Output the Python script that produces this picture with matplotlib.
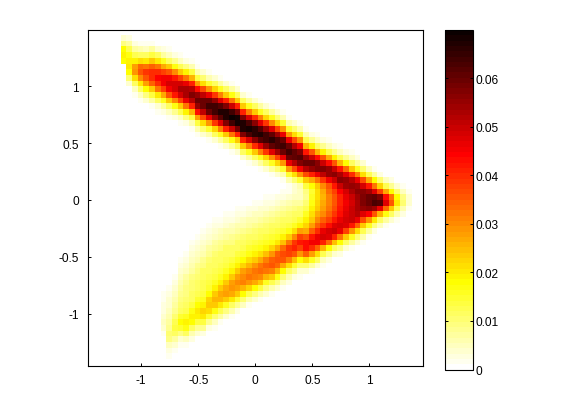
import numpy as np
import matplotlib
matplotlib.use('Agg')
import matplotlib.pyplot as plt
from matplotlib.colors import ListedColormap

plt.rcParams['font.family'] = ['Liberation Sans', 'DejaVu Sans']
plt.rcParams['font.size'] = 8.6

# density, one entry per grid column, units of 0.001
# upper arm: first row of the column, then the values going down
upper_first = [0, 0, 1, 1, 1, 1, 2, 1, 2, 2, 3, 3, 4, 5, 5, 6, 6, 7, 7, 8, 8, 9, 10, 10, 11, 11,
               12, 12, 13, 14, 14, 15, 16, 16, 17, 17, 18, 19, 19, 20, 20, 21, 21, 23, 23, 24,
               25, 25, 26, 26, 27, 28]
upper_vals = [
    [4, 9, 18, 19, 18],
    [3, 7, 13, 17, 19, 20, 18, 10, 4, 1],
    [3, 7, 13, 19, 28, 29, 21, 12, 5, 2],
    [2, 6, 12, 21, 33, 36, 30, 20, 11, 5, 2],
    [2, 5, 11, 20, 32, 39, 36, 28, 18, 9, 4, 1],
    [2, 7, 14, 24, 34, 40, 40, 34, 24, 14, 7, 2, 1],
    [4, 11, 20, 32, 40, 44, 40, 32, 20, 11, 4, 2],
    [1, 3, 7, 16, 27, 38, 45, 45, 38, 27, 16, 7, 3, 1],
    [2, 5, 12, 23, 35, 45, 49, 45, 35, 23, 12, 5, 2],
    [1, 3, 8, 17, 30, 42, 49, 49, 42, 30, 17, 8, 3, 1],
    [2, 5, 13, 24, 38, 49, 53, 49, 38, 24, 13, 5, 2],
    [1, 3, 9, 19, 32, 46, 53, 53, 46, 32, 19, 9, 3, 1],
    [2, 6, 14, 26, 41, 52, 57, 52, 41, 26, 14, 6, 2],
    [2, 6, 14, 28, 43, 55, 60, 55, 43, 28, 14, 6, 2],
    [1, 4, 10, 21, 37, 51, 60, 60, 51, 37, 21, 10, 4, 1],
    [2, 6, 15, 29, 46, 59, 64, 59, 46, 29, 15, 6, 2],
    [1, 4, 11, 22, 39, 55, 64, 64, 55, 39, 22, 11, 4, 1],
    [2, 7, 16, 31, 48, 62, 67, 62, 48, 31, 16, 7, 2],
    [1, 4, 11, 23, 41, 57, 67, 67, 57, 41, 23, 11, 4, 1],
    [2, 7, 17, 32, 50, 64, 70, 64, 50, 32, 17, 7, 2],
    [1, 4, 11, 24, 41, 58, 68, 68, 58, 41, 24, 11, 4, 1],
    [1, 4, 11, 23, 41, 57, 67, 67, 57, 41, 23, 11, 4, 1],
    [2, 7, 16, 31, 49, 63, 68, 63, 49, 31, 16, 7, 2],
    [1, 4, 11, 23, 40, 56, 66, 66, 56, 40, 23, 11, 4, 1],
    [2, 7, 16, 31, 48, 62, 67, 62, 48, 31, 16, 7, 2],
    [1, 4, 11, 22, 39, 55, 64, 64, 55, 39, 22, 11, 4, 1],
    [2, 7, 16, 30, 48, 61, 66, 61, 48, 30, 16, 7, 2],
    [1, 4, 10, 22, 38, 54, 63, 63, 54, 38, 22, 10, 4, 1],
    [2, 6, 15, 29, 46, 59, 64, 59, 46, 29, 15, 6, 2],
    [2, 6, 15, 29, 46, 59, 64, 59, 46, 29, 15, 6, 2],
    [1, 4, 10, 21, 37, 52, 61, 61, 52, 37, 21, 10, 4, 1],
    [2, 6, 15, 29, 45, 57, 62, 57, 45, 29, 15, 6, 2],
    [2, 6, 13, 26, 42, 55, 60, 52, 37, 23, 14, 9, 8, 10, 13, 16, 19, 22, 27, 35, 43, 43, 34, 21, 10, 4, 1],
    [1, 3, 8, 19, 35, 50, 59, 55, 41, 27, 18, 15, 16, 17, 19, 21, 24, 28, 34, 42, 45, 40, 28, 16, 7, 2, 1],
    [2, 5, 12, 26, 43, 56, 57, 46, 32, 24, 21, 21, 22, 24, 27, 30, 34, 40, 46, 45, 34, 21, 11, 4, 1],
    [1, 3, 8, 19, 35, 50, 57, 51, 39, 30, 27, 26, 27, 28, 30, 34, 39, 46, 49, 41, 26, 13, 5, 2],
    [2, 5, 13, 27, 43, 55, 55, 45, 36, 33, 31, 31, 32, 34, 38, 43, 49, 47, 33, 18, 8, 3, 1],
    [3, 8, 19, 35, 50, 56, 50, 42, 38, 36, 36, 37, 39, 42, 47, 50, 41, 25, 12, 4, 1],
    [2, 5, 13, 26, 42, 53, 56, 50, 44, 41, 41, 42, 43, 46, 49, 46, 32, 18, 8, 3, 1],
    [3, 8, 18, 33, 48, 55, 54, 49, 46, 45, 46, 47, 49, 48, 38, 24, 12, 4, 1],
    [2, 5, 12, 24, 40, 52, 55, 53, 50, 49, 50, 50, 50, 42, 29, 16, 7, 2, 1],
    [3, 7, 16, 31, 46, 54, 56, 54, 53, 53, 52, 46, 34, 21, 10, 4, 1],
    [1, 4, 10, 21, 37, 49, 56, 57, 57, 55, 48, 37, 24, 13, 6, 2],
    [5, 13, 27, 42, 54, 59, 60, 56, 44, 29, 16, 7, 2],
    [2, 7, 18, 32, 48, 61, 63, 54, 36, 20, 9, 3, 1],
    [3, 10, 22, 38, 57, 62, 46, 26, 12, 5, 1],
    [5, 13, 27, 43, 48, 33, 17, 7, 2],
    [3, 8, 18, 32, 35, 23, 11, 4, 1],
    [4, 10, 18, 20, 13, 6, 2],
    [2, 5, 9, 10, 6, 3, 1],
    [2, 4, 4, 2, 1],
    [1, 1],
]

# lower arm, same layout, only for the columns left of the notch
lower_col = list(range(7, 32))
lower_first = [44, 42, 40, 38, 37, 35, 34, 33, 32, 32, 31, 31, 30, 30, 29, 29, 29,
               28, 28, 27, 27, 27, 27, 27, 27]
lower_vals = [
    [1, 2, 2, 3, 3, 4, 5, 4, 2, 1],
    [1, 1, 2, 3, 4, 4, 5, 6, 7, 8, 10, 9, 5, 3, 2, 1],
    [1, 1, 2, 3, 4, 5, 6, 7, 8, 10, 13, 14, 12, 7, 4, 2, 1],
    [1, 2, 3, 4, 5, 6, 7, 8, 9, 10, 12, 15, 18, 15, 9, 4, 2, 1],
    [1, 2, 3, 4, 5, 7, 8, 9, 9, 10, 11, 13, 16, 19, 17, 11, 5, 2, 1],
    [1, 2, 3, 4, 5, 6, 7, 9, 10, 10, 11, 12, 14, 17, 19, 18, 12, 6, 3, 1],
    [1, 2, 3, 4, 5, 6, 8, 9, 10, 11, 12, 13, 15, 18, 20, 19, 14, 8, 4, 1],
    [1, 2, 3, 4, 5, 6, 8, 9, 11, 12, 13, 13, 14, 16, 19, 22, 20, 14, 8, 3, 1],
    [1, 2, 3, 4, 5, 7, 8, 10, 11, 12, 13, 14, 15, 18, 22, 24, 21, 15, 8, 3, 1],
    [2, 3, 4, 5, 7, 8, 10, 11, 12, 13, 14, 16, 19, 24, 26, 23, 17, 10, 5, 2],
    [1, 2, 3, 5, 6, 8, 9, 11, 12, 13, 14, 16, 19, 24, 27, 26, 20, 13, 7, 2, 1],
    [2, 3, 4, 6, 7, 9, 11, 12, 13, 14, 16, 19, 24, 27, 28, 24, 16, 9, 4, 1],
    [1, 2, 3, 5, 6, 8, 9, 11, 12, 14, 16, 19, 24, 28, 29, 27, 20, 12, 6, 2],
    [2, 3, 4, 6, 7, 9, 11, 12, 14, 16, 19, 24, 28, 30, 28, 23, 15, 8, 3, 1],
    [1, 2, 3, 5, 6, 8, 10, 12, 13, 15, 18, 22, 28, 30, 31, 26, 18, 10, 5, 1],
    [1, 3, 4, 6, 7, 9, 11, 13, 15, 17, 21, 26, 30, 32, 29, 22, 13, 6, 2],
    [2, 3, 5, 6, 8, 10, 12, 14, 16, 19, 24, 29, 32, 31, 27, 18, 9, 4, 1],
    [1, 2, 4, 5, 7, 9, 11, 13, 15, 17, 21, 27, 32, 33, 30, 23, 14, 6, 2],
    [2, 3, 4, 6, 8, 10, 12, 14, 16, 19, 25, 31, 34, 32, 26, 16, 9, 4, 1],
    [1, 2, 3, 5, 7, 9, 11, 13, 15, 17, 22, 29, 34, 35, 31, 23, 13, 6, 2],
    [1, 3, 4, 6, 8, 10, 12, 14, 16, 20, 27, 34, 36, 33, 26, 17, 9, 4, 1],
    [2, 3, 5, 7, 9, 11, 13, 15, 19, 25, 33, 37, 35, 27, 18, 10, 5, 2],
    [2, 4, 6, 8, 10, 12, 14, 17, 23, 32, 39, 38, 31, 21, 12, 6, 3, 1],
    [3, 5, 7, 9, 11, 13, 16, 21, 30, 39, 41, 35, 25, 15, 8, 3, 1],
    [3, 5, 7, 10, 12, 15, 19, 28, 38, 42, 38, 29, 18, 10, 4, 2],
]

xticks = [-1, -0.5, 0, 0.5, 1]
xticklabels = ['-1', '-0.5', '0', '0.5', '1']
yticks = [-1, -0.5, 0, 0.5, 1]
yticklabels = ['-1', '-0.5', '0', '0.5', '1']
cticks = [0, 0.01, 0.02, 0.03, 0.04, 0.05, 0.06]
cticklabels = ['0', '0.01', '0.02', '0.03', '0.04', '0.05', '0.06']

density = np.zeros((58, 52))
for col, (first, vals) in enumerate(zip(upper_first, upper_vals)):
    density[first:first + len(vals), col] += vals
for col, first, vals in zip(lower_col, lower_first, lower_vals):
    density[first:first + len(vals), col] += vals
density = density / 1000.0

x_edges = -1.18 + 0.05 * np.arange(53)
y_edges = 1.45 - 0.05 * np.arange(59)

# matlab flipud(hot), 64 levels
r = np.r_[np.arange(1, 25) / 24, np.ones(40)]
g = np.r_[np.zeros(24), np.arange(1, 25) / 24, np.ones(16)]
b = np.r_[np.zeros(48), np.arange(1, 17) / 16]
cmap = ListedColormap(np.c_[r, g, b][::-1])

W, H = 561, 414
fig = plt.figure(figsize=(W / 100, H / 100), dpi=100)
ax = fig.add_axes([87.5 / W, 1 - 367 / H, 335.5 / W, 336 / H])
cax = fig.add_axes([445 / W, 1 - 370.5 / H, 28 / W, 339.5 / H])

mesh = ax.pcolormesh(x_edges, y_edges, density, cmap=cmap, vmin=0, vmax=0.0699,
                     shading='flat', linewidth=0, rasterized=True)
ax.set_xlim(-1.47, 1.47)
ax.set_ylim(-1.46, 1.495)
ax.set_xticks(xticks)
ax.set_xticklabels(xticklabels)
ax.set_yticks(yticks)
ax.set_yticklabels(yticklabels)
ax.tick_params(direction='in', length=2, width=0.7, pad=6)

cb = fig.colorbar(mesh, cax=cax)
cb.set_ticks(cticks)
cb.set_ticklabels(cticklabels)
cb.ax.tick_params(direction='in', length=2, width=0.7, pad=2, left=True, right=True)
cb.outline.set_linewidth(0.8)

for s in ax.spines.values():
    s.set_linewidth(0.8)

plt.savefig('out.png', dpi=100)
